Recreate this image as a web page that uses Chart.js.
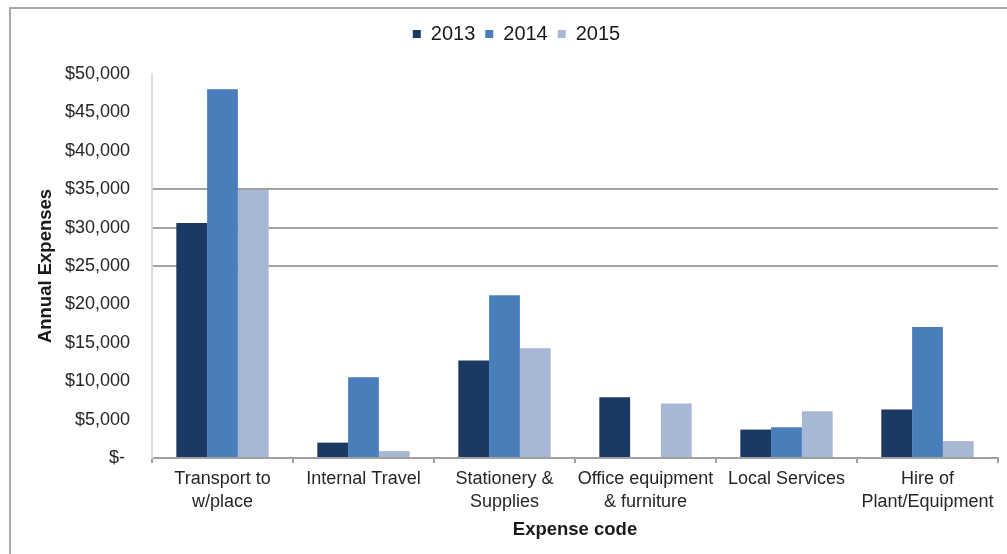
<!DOCTYPE html>
<html>
<head>
<meta charset="utf-8">
<script src="https://cdn.jsdelivr.net/npm/chart.js@4"></script>
<style>
  html, body { margin: 0; padding: 0; background: #fff; overflow: hidden; }
  #wrap { position: relative; width: 1007px; height: 554px; overflow: hidden; }
  #frame { position: absolute; left: 9px; top: 7px; width: 1100px; height: 600px;
           border-top: 2px solid #a9a9a9; border-left: 2px solid #a9a9a9; }
  canvas { position: absolute; left: 0; top: 0; }
</style>
</head>
<body>
<div id="wrap">
  <div id="frame"></div>
  <canvas id="expenseChart" width="1007" height="554"></canvas>
</div>
<script>
const categories = [
    ['Transport to', 'w/place'],
    'Internal Travel',
    ['Stationery &', 'Supplies'],
    ['Office equipment', '& furniture'],
    'Local Services',
    ['Hire of', 'Plant/Equipment']
];
const years = ['2013', '2014', '2015'];
const expenses2013 = [30600, 2000, 12700, 7900, 3700, 6300];
const expenses2014 = [48000, 10500, 21200, 0, 4000, 17050];
const expenses2015 = [34900, 900, 14300, 7100, 6100, 2200];
const yTicks = [0, 5000, 10000, 15000, 20000, 25000, 30000, 35000, 40000, 45000, 50000];
const shownGrid = [25000, 30000, 35000];

const colors = ['#1b3a63', '#4a7ebb', '#a7b8d7'];
const fontFamily = '"Liberation Sans", Arial, sans-serif';

function money(v) {
    if (v === 0) return '$- ';
    return '$' + v.toLocaleString('en-US');
}

// push the chart area down under the legend
const legendGap = {
    id: 'legendGap',
    beforeInit(chart) {
        const fit = chart.legend.fit;
        chart.legend.fit = function () {
            fit.bind(chart.legend)();
            this.height += 20;
        };
    }
};

const ctx = document.getElementById('expenseChart').getContext('2d');
new Chart(ctx, {
    type: 'bar',
    data: {
        labels: categories,
        datasets: [expenses2013, expenses2014, expenses2015].map((d, i) => ({
            label: years[i],
            data: d,
            backgroundColor: colors[i],
            borderWidth: 0,
            categoryPercentage: 0.655,
            barPercentage: 1.0
        }))
    },
    options: {
        responsive: false,
        animation: false,
        layout: { padding: { top: 14, left: 35, right: 9, bottom: 0 } },
        plugins: {
            legend: {
                position: 'top',
                labels: {
                    font: { family: fontFamily, size: 20 },
                    color: '#1a1a1a',
                    boxWidth: 8,
                    boxHeight: 8,
                    padding: 10
                }
            },
            tooltip: { enabled: false }
        },
        scales: {
            x: {
                offset: true,
                grid: { display: true, drawOnChartArea: false, drawTicks: true, tickLength: 5, offset: true, color: '#a0a0a0', lineWidth: 2 },
                border: { display: true, color: '#a0a0a0', width: 2 },
                ticks: {
                    font: { family: fontFamily, size: 18, lineHeight: 1.25 },
                    color: '#262626',
                    maxRotation: 0,
                    autoSkip: false,
                    padding: 5
                },
                title: {
                    display: true,
                    text: 'Expense code',
                    font: { family: fontFamily, size: 18.5, weight: 'bold' },
                    color: '#1a1a1a',
                    padding: { top: 0, bottom: 13 }
                },
                afterFit(scale) { scale.height = 96; }
            },
            y: {
                min: 0,
                max: 50000,
                afterBuildTicks(scale) { scale.ticks = yTicks.map(v => ({ value: v })); },
                grid: {
                    drawTicks: false,
                    color: c => shownGrid.includes(c.tick.value) ? '#a3a3a3' : 'rgba(0,0,0,0)',
                    lineWidth: 2
                },
                border: { display: true, color: '#dcdcdc', width: 2 },
                ticks: {
                    font: { family: fontFamily, size: 18 },
                    color: '#262626',
                    padding: 22,
                    callback: v => money(v)
                },
                title: {
                    display: true,
                    text: 'Annual Expenses',
                    font: { family: fontFamily, size: 18.5, weight: 'bold' },
                    color: '#1a1a1a',
                    padding: { top: 0, bottom: 0 }
                },
                afterFit(scale) { scale.width = 117; }
            }
        }
    },
    plugins: [legendGap]
});
</script>
</body>
</html>
